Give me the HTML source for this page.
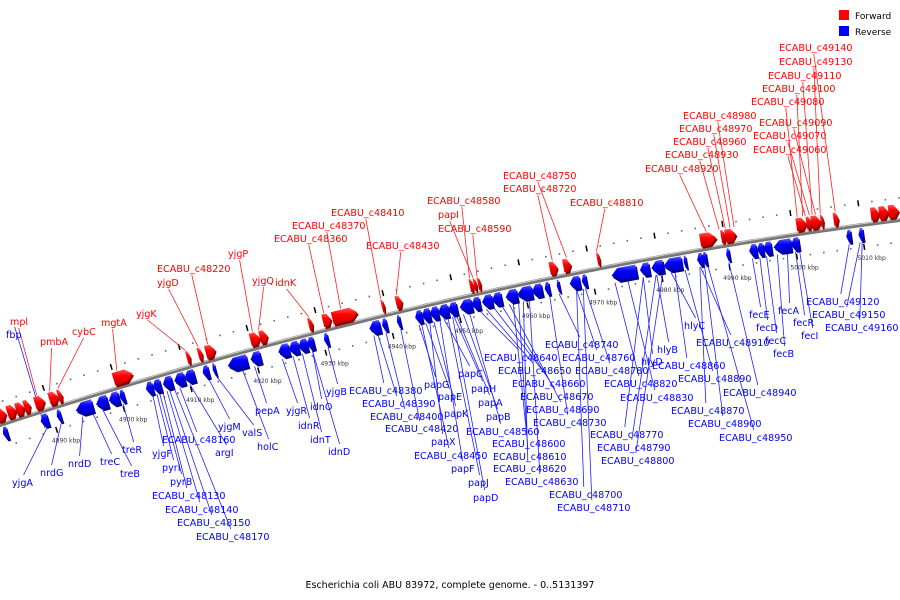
<!DOCTYPE html>
<html><head><meta charset="utf-8">
<style>
html,body{margin:0;padding:0;background:#fff;}
svg{display:block;font-family:"DejaVu Sans","Liberation Sans",sans-serif;}
</style></head>
<body>
<svg id="map" width="900" height="600" viewBox="0 0 900 600">
  <defs>
    <linearGradient id="gRed" x1="0" y1="0" x2="0" y2="1">
      <stop offset="0" stop-color="#ff5a5a"/><stop offset="0.4" stop-color="#ff0000"/><stop offset="1" stop-color="#c00000"/>
    </linearGradient>
    <linearGradient id="gBlue" x1="0" y1="0" x2="0" y2="1">
      <stop offset="0" stop-color="#5a5aff"/><stop offset="0.4" stop-color="#0000ff"/><stop offset="1" stop-color="#0000b0"/>
    </linearGradient>
  </defs>
  <g id="legend">
    <rect x="839" y="10" width="10" height="10" fill="#ff0000"/>
    <text x="855" y="19" font-size="9" fill="#000">Forward</text>
    <rect x="839" y="26" width="10" height="10" fill="#0000ff"/>
    <text x="855" y="35" font-size="9" fill="#000">Reverse</text>
  </g>
  <text x="450" y="588" font-size="9.5" text-anchor="middle" fill="#000">Escherichia coli ABU 83972, complete genome. - 0..5131397</text>
  <g id="layer-dots"></g>
  <g id="layer-leaders"></g>
  <g id="layer-backbone"></g>
  <g id="layer-genes"></g>
  <g id="layer-labels"></g>
</svg>
<script>
// ---- data (kbp) ----
const tickKbp = [4890,4900,4910,4920,4930,4940,4950,4960,4970,4980,4990,5000,5010];
const tickLabels = ["4890 kbp","4900 kbp","4910 kbp","4920 kbp","4930 kbp","4940 kbp","4950 kbp","4960 kbp","4970 kbp","4980 kbp","4990 kbp","5000 kbp","5010 kbp"];
const fwdStart = [4882.6,4884.1,4885.4,4886.6,4888.2,4890.3,4891.6,4899.8,4910.6,4912.3,4913.4,4920.0,4921.4,4928.6,4930.7,4932.1,4939.4,4941.5,4952.4,4953.0,4953.6,4964.2,4966.2,4971.2,4986.4,4989.5,4990.1,5000.6,5002.1,5002.8,5004.2,5006.1,5011.6,5012.8,5014.2];
const fwdEnd   = [4883.9,4885.4,4886.6,4887.5,4889.6,4891.6,4892.2,4902.6,4911.1,4912.9,4914.8,4921.4,4922.5,4929.2,4931.9,4935.8,4939.8,4942.4,4952.9,4953.4,4954.0,4965.3,4967.3,4971.6,4988.8,4990.1,4991.7,5002.1,5002.8,5004.2,5004.6,5006.8,5012.8,5014.2,5015.7];
const revStart = [4882.6,4888.2,4890.6,4893.4,4896.4,4898.3,4899.9,4903.8,4904.8,4906.3,4908.0,4909.5,4912.2,4913.7,4915.9,4919.3,4923.4,4925.0,4926.4,4927.7,4930.2,4936.9,4938.8,4941.0,4943.7,4944.7,4945.9,4947.1,4948.6,4950.3,4952.1,4953.6,4955.1,4957.1,4958.8,4961.0,4962.9,4964.7,4966.6,4968.4,4972.8,4977.0,4978.7,4980.5,4983.5,4985.5,4986.3,4989.8,4993.2,4994.4,4995.3,4996.8,4999.4,5007.6,5009.4];
const revEnd   = [4883.3,4889.3,4891.2,4895.9,4898.1,4899.8,4900.6,4904.8,4906.0,4907.7,4909.5,4911.0,4913.1,4914.1,4918.8,4920.8,4925.0,4926.4,4927.7,4928.7,4930.8,4938.5,4939.5,4941.5,4944.7,4945.9,4947.1,4948.6,4949.9,4952.1,4953.3,4955.1,4956.5,4958.8,4961.0,4962.5,4963.6,4965.1,4968.1,4969.1,4976.5,4978.4,4980.5,4983.2,4983.9,4986.3,4986.9,4990.3,4994.3,4995.3,4996.5,4999.4,5000.6,5008.3,5010.1];
const fwdNames = ["mpl","pmbA","cybC","mgtA","yjgK","yjgD","ECABU_c48220","yjgP","yjgQ","idnK","ECABU_c48360","ECABU_c48370","ECABU_c48410","ECABU_c48430","ECABU_c48580","papI","ECABU_c48590","ECABU_c48750","ECABU_c48720","ECABU_c48810","ECABU_c48920","ECABU_c48930","ECABU_c48960","ECABU_c48970","ECABU_c48980","ECABU_c49060","ECABU_c49070","ECABU_c49090","ECABU_c49080","ECABU_c49100","ECABU_c49110","ECABU_c49130","ECABU_c49140"];
const fwdTarget = [4888.8,4890.7,4891.9,4900.6,4910.7,4912.6,4914.0,4920.6,4921.5,4928.9,4931.1,4933.6,4939.5,4941.8,4952.6,4953.1,4953.7,4966.9,4964.8,4971.3,4987.5,4989.4,4990.3,4991.0,4991.6,5002.1,5002.7,5003.6,5000.9,5001.7,5003.1,5004.3,5006.5];
const fwdLabX = [10,40,72,101,136,157,157,228,252,275,274,292,331,366,427,438,438,503,503,570,645,665,673,679,683,753,753,759,751,762,768,779,779];
const fwdLabY = [321,341,331,322,313,282,268,253,280,282,238,225,212,245,200,214,228,175,188,202,168,154,141,128,115,149,135,122,101,88,75,61,47];
const revNames = ["fbp","yjgA","nrdG","nrdD","treC","treB","treR","yjgF","pyrI","pyrB","ECABU_c48130","ECABU_c48140","ECABU_c48150","ECABU_c48170","ECABU_c48160","argI","yjgM","valS","holC","pepA","yjgR","idnR","idnT","idnD","idnO","yjgB","ECABU_c48380","ECABU_c48390","ECABU_c48400","ECABU_c48420","papG","papE","papC","papH","papA","papK","papB","ECABU_c48560","papX","ECABU_c48450","papF","papJ","papD","ECABU_c48640","ECABU_c48650","ECABU_c48660","ECABU_c48670","ECABU_c48690","ECABU_c48730","ECABU_c48600","ECABU_c48610","ECABU_c48620","ECABU_c48630","ECABU_c48700","ECABU_c48710","ECABU_c48740","ECABU_c48760","ECABU_c48780","ECABU_c48820","ECABU_c48830","ECABU_c48770","ECABU_c48790","ECABU_c48800","hlyD","hlyB","hlyC","ECABU_c48910","ECABU_c48860","ECABU_c48890","ECABU_c48940","ECABU_c48870","ECABU_c48900","ECABU_c48950","fecE","fecD","fecC","fecB","fecA","fecR","fecI","ECABU_c49120","ECABU_c49150","ECABU_c49160"];
const revTarget = [4888.5,4888.8,4890.9,4894.1,4895.6,4897.1,4900.1,4904.5,4905.1,4905.5,4906.0,4906.6,4907.0,4907.7,4908.5,4910.0,4912.8,4914.0,4917.8,4919.6,4923.7,4925.3,4926.7,4928.2,4928.2,4930.5,4937.3,4937.9,4939.1,4941.3,4944.0,4945.0,4947.7,4949.2,4949.6,4946.2,4950.6,4951.5,4945.6,4944.4,4947.1,4948.3,4949.0,4953.0,4954.0,4955.1,4956.3,4957.4,4963.4,4958.0,4958.8,4959.5,4960.4,4967.4,4968.4,4964.8,4967.4,4968.7,4973.1,4975.0,4977.3,4979.2,4980.2,4977.3,4979.3,4981.4,4985.8,4982.0,4983.5,4990.0,4985.7,4986.4,4986.9,4993.5,4994.6,4995.6,4997.2,4998.7,4999.9,5000.5,5007.9,5009.5,5009.8];
const revLabX = [6,12,40,68,100,120,122,152,162,170,152,165,177,196,162,215,218,242,257,255,286,298,310,328,310,326,349,362,370,385,424,438,458,471,478,444,486,466,431,414,451,468,473,484,498,512,520,526,533,492,493,493,505,549,557,545,562,575,604,620,590,597,601,641,657,684,696,652,678,723,671,688,719,749,756,765,773,778,793,801,806,812,825];
const revLabY = [334,482,472,463,461,473,449,453,467,481,495,509,522,536,439,452,426,432,446,410,410,425,439,451,406,391,390,403,416,428,384,396,373,388,402,413,416,431,441,455,468,482,497,357,370,383,396,409,422,443,456,468,481,494,507,344,357,370,383,397,434,447,460,361,349,325,342,365,378,392,410,423,437,314,327,340,353,310,322,335,301,314,327];

// ---- axes ----
const K0 = 4882.6, PXK = 6.76;
function kx(k){ return (k - K0) * PXK; }
function cy(x){ return 425 - 0.3278*x + 0.0001111*x*x; }
function slope(x){ return -0.3278 + 2*0.0001111*x; }
function frame(k){
  const x = kx(k), y = cy(x), s = slope(x), n = Math.hypot(1, s);
  return {x, y, tx: 1/n, ty: s/n, nx: s/n, ny: -1/n};
}
function pt(k, off){ const f = frame(k); return [f.x + f.nx*off, f.y + f.ny*off]; }

const NS = "http://www.w3.org/2000/svg";
const gDots = document.getElementById('layer-dots');
const gLead = document.getElementById('layer-leaders');
const gBack = document.getElementById('layer-backbone');
const gGenes = document.getElementById('layer-genes');
const gLab = document.getElementById('layer-labels');
function mk(tag, attrs){ const e = document.createElementNS(NS, tag); for (const a in attrs) e.setAttribute(a, attrs[a]); return e; }

let d = "";
for (let x = -5; x <= 905; x += 5) d += (x === -5 ? "M" : "L") + x + "," + cy(x).toFixed(2) + " ";
const bb = mk('path', {d: d, fill: 'none', stroke: '#777', 'stroke-width': 4});


gBack.appendChild(bb);
const bbh = mk('path', {d: d, fill: 'none', stroke: '#cfcfcf', 'stroke-width': 1, transform: 'translate(0,-1.2)'});


gBack.appendChild(bbh);

for (let k = 4884; k <= 5016; k += 2) {
  [-22, 22].forEach(off => {
    const p = pt(k, off);
    if (p[0] < 0 || p[0] > 900) return;
    let el;
    if (Math.round(k) % 10 === 0) {
      const f = frame(k);
      el = mk('line', {x1: p[0] - f.nx*3, y1: p[1] - f.ny*3, x2: p[0] + f.nx*3, y2: p[1] + f.ny*3, stroke: '#000', 'stroke-width': 1.5});
      
    } else {
      el = mk('rect', {x: p[0] - 0.8, y: p[1] - 0.8, width: 1.6, height: 1.6, fill: '#666'});
      
    }
    
    gDots.appendChild(el);
  });
}
tickKbp.forEach((k, i) => {
  const p = pt(k, -33);
  const t = mk('text', {x: p[0] + 6, y: p[1] + 2, 'font-size': 6, 'text-anchor': 'middle', fill: '#333'});
  t.textContent = tickLabels[i];
  
  
  gDots.appendChild(t);
});

function gene(k1, k2, forward){
  const inner = forward ? 3 : -3, outer = forward ? 16 : -16;
  const len = k2 - k1, head = Math.min(len * 0.45, 1.0);
  let poly;
  if (forward) {
    const kb = k2 - head;
    poly = [pt(k1, inner), pt(kb, inner), pt(k2, (inner+outer)/2), pt(kb, outer), pt(k1, outer)];
  } else {
    const kb = k1 + head;
    poly = [pt(k2, inner), pt(kb, inner), pt(k1, (inner+outer)/2), pt(kb, outer), pt(k2, outer)];
  }
  const ptsStr = poly.map(p => p[0].toFixed(1) + "," + p[1].toFixed(1)).join(" ");
  const sh = mk('polygon', {points: ptsStr, fill: forward ? '#8a0000' : '#00008a', transform: 'translate(1.5,2)'});
  
  
  gGenes.appendChild(sh);
  const g = mk('polygon', {points: ptsStr, fill: forward ? 'url(#gRed)' : 'url(#gBlue)'});
  
  
  gGenes.appendChild(g);
}
fwdStart.forEach((s, i) => gene(s, fwdEnd[i], true));
revStart.forEach((s, i) => gene(s, revEnd[i], false));

function label(name, lx, ly, target, forward){
  const t = mk('text', {x: lx, y: ly + 4, 'font-size': 9.6, fill: forward ? '#ff0000' : '#0000ff'});
  t.textContent = name;
  
  
  gLab.appendChild(t);
  const w = name.length * 5.8;
  const sx = lx + w / 2, sy = forward ? ly + 7 : ly - 7;
  const e = pt(target, forward ? 17 : -17);
  const ln = mk('line', {x1: sx, y1: sy, x2: e[0], y2: e[1], stroke: forward ? '#ff2020' : '#2020ff', 'stroke-width': 0.8});
  
  
  gLead.appendChild(ln);
}
fwdNames.forEach((n, i) => label(n, fwdLabX[i], fwdLabY[i], fwdTarget[i], true));
revNames.forEach((n, i) => label(n, revLabX[i], revLabY[i], revTarget[i], false));
</script>
</body></html>
